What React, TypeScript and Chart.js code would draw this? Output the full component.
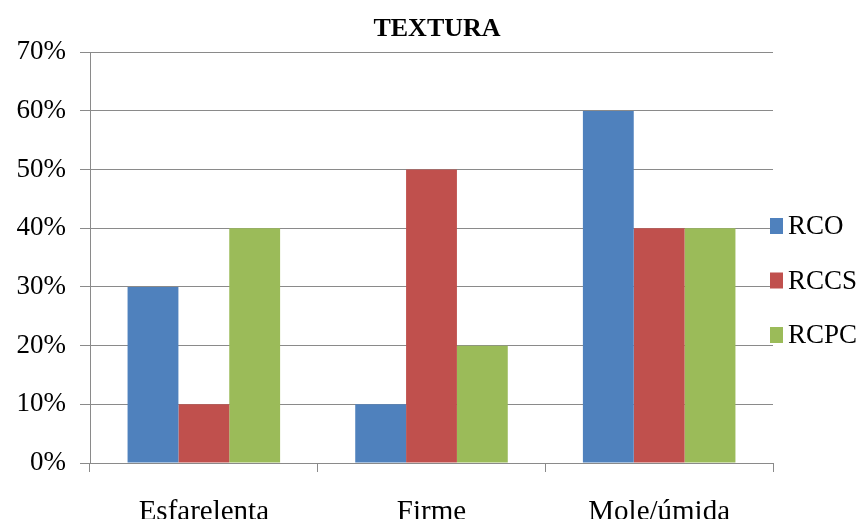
import React, { useEffect, useRef } from "react";
import { Chart, registerables } from "chart.js";

Chart.register(...registerables);

const TITLE = "TEXTURA";
const categories = ["Esfarelenta", "Firme", "Mole/úmida"];
const seriesNames = ["RCO", "RCCS", "RCPC"];
const rco = [30, 10, 60];
const rccs = [10, 50, 40];
const rcpc = [40, 20, 40];
const seriesColors = ["#4F81BD", "#C0504D", "#9BBB59"];
const yTicks = [0, 10, 20, 30, 40, 50, 60, 70];

const FONT = '"Liberation Serif", "Times New Roman", serif';
const GRID = "#8a8a8a";

const legendPlugin = {
  id: "sideLegend",
  afterDraw(chart: any) {
    const ctx = chart.ctx;
    const area = chart.chartArea;
    ctx.save();
    ctx.font = `27px ${FONT}`;
    ctx.textBaseline = "middle";
    ctx.textAlign = "left";
    chart.data.datasets.forEach((ds: any, i: number) => {
      const y = 226 + i * 54.5;
      const x = area.right - 3;
      ctx.fillStyle = ds.backgroundColor;
      ctx.fillRect(x, y - 8, 13, 16);
      ctx.fillStyle = "#000";
      ctx.fillText(ds.label, x + 18, y + 1);
    });
    ctx.restore();
  },
};

export default function App() {
  const ref = useRef<HTMLCanvasElement | null>(null);
  useEffect(() => {
    if (!ref.current) return;
    const series = [rco, rccs, rcpc];
    const chart = new Chart(ref.current, {
      type: "bar",
      data: {
        labels: categories,
        datasets: seriesNames.map((n, i) => ({
          label: n,
          data: series[i],
          backgroundColor: seriesColors[i],
          borderWidth: 0,
          categoryPercentage: 0.67,
          barPercentage: 1,
          yAxisID: "y",
        })),
      },
      options: {
        responsive: false,
        animation: false,
        layout: { padding: { left: 9, right: 0, top: 0, bottom: 0 } },
        plugins: {
          legend: { display: false },
          tooltip: { enabled: false },
          title: {
            display: true,
            text: TITLE,
            color: "#000",
            font: { family: FONT, size: 26, weight: "bold", lineHeight: 1.2 },
            padding: { top: 14, bottom: 7 },
          },
        },
        scales: {
          x: {
            grid: {
              display: true,
              drawOnChartArea: false,
              drawTicks: true,
              tickLength: 9,
              color: GRID,
              offset: true,
            },
            border: { display: true, color: GRID, width: 1 },
            ticks: {
              color: "#000",
              font: { family: FONT, size: 29, lineHeight: 1.2 },
              padding: 23,
              maxRotation: 0,
            },
            afterFit: (s: any) => {
              s.height = 56;
            },
          },
          y: {
            min: 0,
            max: 70,
            afterBuildTicks: (s: any) => {
              s.ticks = yTicks.map((v) => ({ value: v }));
            },
            grid: {
              color: GRID,
              lineWidth: 1,
              drawTicks: true,
              tickLength: 10,
            },
            border: { display: true, color: GRID, width: 1 },
            ticks: {
              color: "#000",
              font: { family: FONT, size: 27 },
              padding: 14,
              callback: (v: any) => `${v}%`,
            },
            afterFit: (s: any) => {
              s.width = 81;
            },
          },
          side: {
            position: "right",
            min: 0,
            max: 70,
            grid: { display: false, drawOnChartArea: false, drawTicks: false },
            border: { display: false },
            ticks: { display: false },
            afterFit: (s: any) => {
              s.width = 92;
            },
          },
        },
      },
      plugins: [legendPlugin],
    });
    return () => chart.destroy();
  }, []);
  return (
    <div
      style={{
        position: "fixed",
        left: 0,
        top: 0,
        width: 865,
        height: 519,
        overflow: "hidden",
        background: "#fff",
      }}
    >
      <canvas ref={ref} width={865} height={519} />
    </div>
  );
}
